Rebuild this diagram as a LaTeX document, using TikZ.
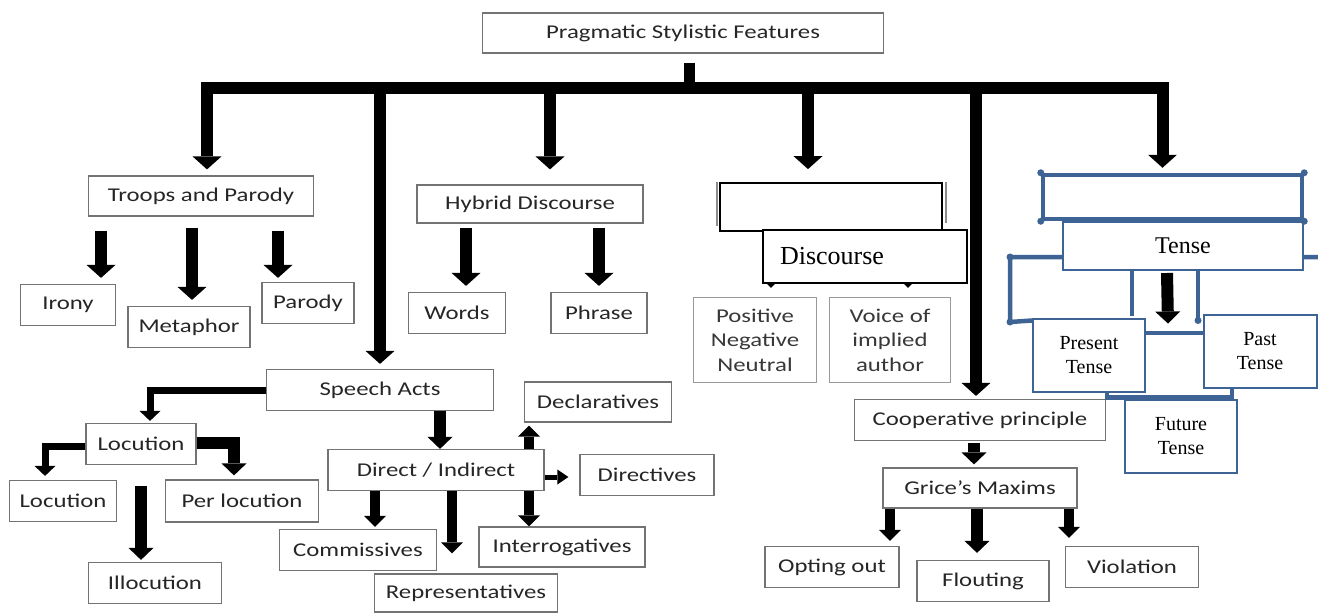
\documentclass[tikz,border=0pt]{standalone}
\usepackage{fontspec}
\setsansfont{Carlito}[FakeStretch=1.27]
\newfontfamily\timesfont{Liberation Serif}
\usetikzlibrary{arrows.meta}

\definecolor{tenseblue}{RGB}{62,100,150}

\tikzset{
  box/.style={draw=black!55, line width=1.2pt, fill=white, inner sep=0pt, align=center,
    text=black!85, font=\sffamily\fontsize{19.5}{24.5}\selectfont},
  greybox/.style={box, draw=black!40, text=black!78},
  tbox/.style={draw=tenseblue, line width=2pt, fill=white, inner sep=0pt, align=center,
    font=\timesfont\fontsize{20}{24}\selectfont},
  fat/.style={line width=12pt, -{Triangle[width=29pt,length=13pt,line width=0pt]}},
  wide/.style={line width=12pt, -{Triangle[width=25pt,length=12pt,line width=0pt]}},
  mid/.style={line width=10pt, -{Triangle[width=22pt,length=11pt,line width=0pt]}},
  slim/.style={line width=7pt, -{Triangle[width=21pt,length=10pt,line width=0pt]}},
  flat/.style={line width=5pt, -{Triangle[width=15pt,length=11pt,line width=0pt]}},
  tiny/.style={line width=3pt, -{Triangle[width=12pt,length=6pt,line width=0pt]}},
  bluebar/.style={draw=tenseblue, line width=4.5pt},
}

\begin{document}
\begin{tikzpicture}[x=1pt, y=-1pt]
\useasboundingbox (0,0) rectangle (1318,613);
\fill[white] (0,0) rectangle (1318,613);

% root and bus
\node[box, minimum width=401pt, minimum height=40pt] (root) at (683,33) {Pragmatic Stylistic Features};
\coordinate (bus) at (689,88);

% first level
\node[box, minimum width=225pt, minimum height=40pt] (troops) at (201,196) {Troops and Parody};
\node[box, minimum width=226pt, minimum height=38pt] (hybrid) at (530,204) {Hybrid Discourse};
\node[draw=black, line width=1.8pt, fill=white, minimum width=222pt, minimum height=48pt] (discbox) at (831,207) {};
\node[draw=tenseblue, line width=4.5pt, fill=white, minimum width=259pt, minimum height=44pt] (tensebox) at (1172.5,197) {};
\node[box, minimum width=227pt, minimum height=41pt] (speech) at (380,390) {Speech Acts};
\node[box, minimum width=251pt, minimum height=41pt] (coop) at (980,420) {Cooperative principle};

\draw[line width=11pt] ([xshift=6pt,yshift=-9pt]root.south) -- (bus);
\draw[fat] (bus) -| ([xshift=6pt,yshift=6pt]troops.north);
\draw[fat] (bus) -| ([yshift=5pt]speech.north);
\draw[fat] (bus) -| ([xshift=20pt,yshift=15pt]hybrid.north);
\draw[fat] (bus) -| ([xshift=-23pt,yshift=13pt]discbox.north);
\draw[fat] (bus) -| ([xshift=-4pt,yshift=3pt]coop.north);
\draw[fat] (bus) -| ([xshift=-10pt,yshift=5pt]tensebox.north);

% troops and parody
\node[box, minimum width=95pt, minimum height=41pt] (irony) at (68,305) {Irony};
\node[box, minimum width=122pt, minimum height=41pt] (metaphor) at (189,327) {Metaphor};
\node[box, minimum width=92pt, minimum height=41pt] (parody) at (308,303) {Parody};
\draw[fat] ([xshift=-100pt,yshift=-14pt]troops.south) -- ([xshift=33pt,yshift=6pt]irony.north);
\draw[fat] ([xshift=-9pt,yshift=-11pt]troops.south) -- ([xshift=3pt,yshift=6pt]metaphor.north);
\draw[fat] ([xshift=77pt,yshift=-14pt]troops.south) -- ([xshift=-30pt,yshift=4pt]parody.north);

% hybrid discourse
\node[box, minimum width=97pt, minimum height=41pt] (words) at (457,313) {Words};
\node[box, minimum width=96pt, minimum height=41pt] (phrase) at (599,313) {Phrase};
\draw[fat] ([xshift=-64pt,yshift=-4pt]hybrid.south) -- ([xshift=9pt,yshift=6pt]words.north);
\draw[fat] ([xshift=69pt,yshift=-4pt]hybrid.south) -- ([yshift=6pt]phrase.north);

% discourse
\node[greybox, minimum width=123pt, minimum height=85pt] (posneg) at (755,340) {Positive\\Negative\\Neutral};
\node[greybox, minimum width=121pt, minimum height=85pt] (voice) at (890,340) {Voice of\\implied\\author};
\draw[tiny] ([xshift=-60pt]discbox.south) -- ([xshift=16pt,yshift=9pt]posneg.north);
\draw[tiny] ([xshift=77pt]discbox.south) -- ([xshift=18pt,yshift=9pt]voice.north);
\draw[black!45, line width=1.5pt] ([xshift=3pt]discbox.north east) -- ([xshift=3pt,yshift=9pt]discbox.south east);
\draw[black!45, line width=1.5pt] ([xshift=-2pt]discbox.north west) -- ([xshift=-2pt,yshift=6pt]discbox.south west);
\node[box, draw=black, text=black, font=\timesfont\fontsize{26}{30}\selectfont,
  text width=170pt, align=left, inner xsep=17pt, minimum height=53pt] (disc) at (865,256.5) {Discourse};

% speech acts
\node[box, minimum width=110pt, minimum height=41pt] (loc) at (141,444) {Locution};
\node[box, minimum width=107pt, minimum height=41pt] (locu) at (63,501) {Locution};
\node[box, minimum width=153pt, minimum height=42pt] (perloc) at (242,501) {Per locution};
\node[box, minimum width=133pt, minimum height=41pt] (illoc) at (155,583) {Illocution};
\node[box, minimum width=216pt, minimum height=41pt] (direct) at (436,470) {Direct / Indirect};
\node[box, minimum width=147pt, minimum height=40pt] (decl) at (598,402) {Declaratives};
\node[box, minimum width=134pt, minimum height=41pt] (dirs) at (647,475) {Directives};
\node[box, minimum width=166pt, minimum height=40pt] (inter) at (562,547) {Interrogatives};
\node[box, minimum width=157pt, minimum height=41pt] (comm) at (358,550) {Commissives};
\node[box, minimum width=183pt, minimum height=38pt] (repr) at (466,593) {Representatives};

\draw[slim] (speech.west) -| ([xshift=9pt,yshift=2pt]loc.north);
\draw[wide] ([xshift=60pt]speech.south) -- ([xshift=4pt]direct.north);
\draw[slim] ([yshift=-2pt]loc.west) -| ([xshift=-18pt,yshift=4pt]locu.north);
\draw[wide] ([yshift=1pt]loc.east) -| ([xshift=-8pt,yshift=4pt]perloc.north);
\draw[wide] ([yshift=-21pt]loc.south) -- ([xshift=-14pt,yshift=2pt]illoc.north);
\draw[mid] ([xshift=93pt]direct.north) -- ([xshift=-69pt,yshift=-3pt]decl.south);
\draw[mid] ([xshift=93pt]direct.south) -- ([xshift=-33pt]inter.north);
\draw[flat] ([yshift=-7pt]direct.east) -- ([xshift=-11pt,yshift=-2pt]dirs.west);
\draw[mid] ([xshift=-61pt]direct.south) -- ([xshift=17pt,yshift=2pt]comm.north);
\draw[mid] ([xshift=16pt]direct.south) -- ([xshift=-14pt,yshift=20pt]repr.north);

% cooperative principle
\node[box, minimum width=194pt, minimum height=40pt] (grice) at (980,488) {Grice's Maxims};
\node[box, minimum width=134pt, minimum height=41pt] (opt) at (832,567) {Opting out};
\node[box, minimum width=132pt, minimum height=41pt] (flout) at (983,581) {Flouting};
\node[box, minimum width=133pt, minimum height=41pt] (viol) at (1132,567) {Violation};
\draw[wide] ([xshift=-6pt,yshift=-2pt]coop.south) -- ([xshift=-6pt,yshift=3pt]grice.north);
\draw[mid] ([xshift=-90pt]grice.south) -- ([xshift=58pt,yshift=5pt]opt.north);
\draw[wide] ([xshift=-3pt]grice.south) -- ([xshift=-6pt,yshift=7pt]flout.north);
\draw[mid] ([xshift=89pt]grice.south) -- ([xshift=-63pt,yshift=8pt]viol.north);

% tense
\node[tbox, minimum width=112pt, minimum height=73pt] (present) at (1089,355) {Present\\Tense};
\node[tbox, minimum width=113pt, minimum height=73pt] (past) at (1260,351) {Past\\Tense};
\coordinate (tenseedge) at (1318,257);
\coordinate (bracket) at (1010,322);
\draw[bluebar] (tenseedge) -| (bracket) -- ([yshift=-3pt]present.north west);
\node[tbox, font=\timesfont\fontsize{24}{28}\selectfont, minimum width=240pt, minimum height=48pt] (tense) at (1183,246) {Tense};
\draw[bluebar] ([xshift=-51pt]tense.south) -- ([xshift=43pt,yshift=2pt]present.north);
\draw[bluebar] ([xshift=15pt]tense.south) -- ([xshift=-62pt,yshift=-7pt]past.north) coordinate (pastnub);
\draw[wide] ([xshift=-16pt,yshift=-2pt]tense.south) -- ([xshift=22pt,yshift=-6pt]present.north east);
\draw[bluebar, line width=4pt] ([yshift=22pt]present.east) -- ([yshift=18pt]past.west);
\draw[bluebar] ([xshift=18pt]present.south) |- ([xshift=-28pt,yshift=-9pt]past.south) -- ([xshift=-28pt]past.south);
\node[tbox, minimum width=112pt, minimum height=73pt] (future) at (1181,436) {Future\\Tense};
\foreach \c in {north west,north east,south west,south east}
  \fill[tenseblue] (tensebox.\c) circle (3.5pt);
\fill[tenseblue] (bracket) circle (3.5pt) (bracket |- tenseedge) circle (3.5pt) (pastnub) circle (3.5pt);
\end{tikzpicture}
\end{document}
